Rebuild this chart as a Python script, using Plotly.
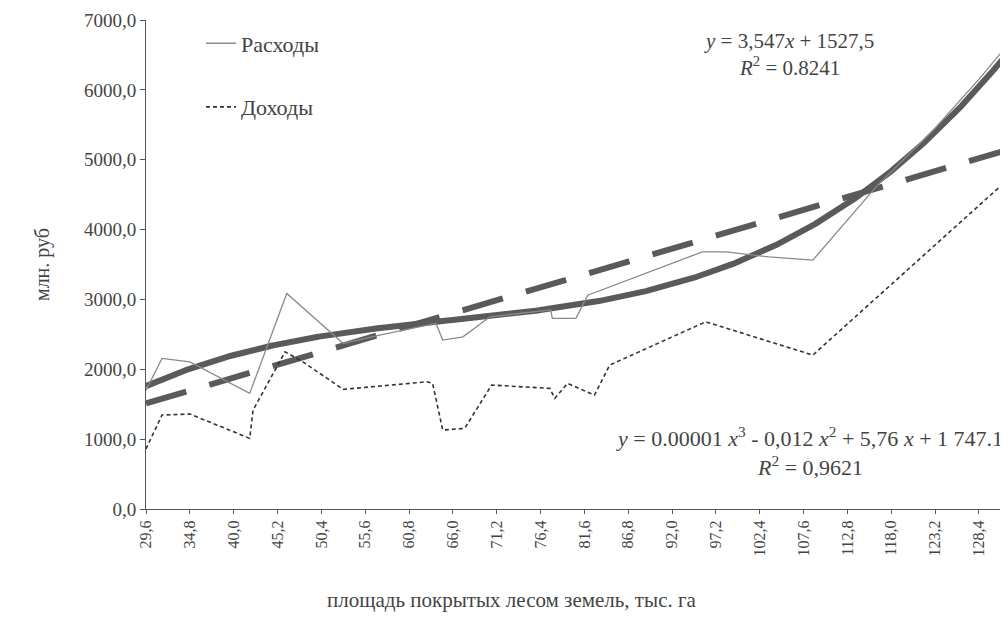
import numpy as np
import plotly.graph_objects as go

# ---- data ----
rash_x = [29.6, 31.5, 34.8, 41.9, 46.3, 53.0, 57.3, 64.0, 64.8, 67.2, 70.4, 77.6, 77.8, 80.6, 82.0,
          95.6, 98.4, 103.5, 108.7, 116.2, 123.2, 128.4, 131.5]
rash_y = [1700, 2156, 2107, 1655, 3086, 2370, 2490, 2657, 2418, 2465, 2751, 2850, 2730, 2730, 3060,
          3681, 3681, 3609, 3562, 4611, 5450, 6150, 6600]

doh_x = [29.6, 31.5, 34.8, 41.9, 42.3, 46.1, 48.2, 53.0, 62.9, 63.6, 64.8, 67.4, 70.6, 77.5, 78.1,
         79.6, 82.8, 84.6, 96.0, 108.7, 131.5]
doh_y = [860, 1345, 1360, 1011, 1416, 2250, 2107, 1712, 1821, 1798, 1130, 1154, 1774, 1727, 1584,
         1798, 1631, 2060, 2680, 2203, 4680]

tick_vals = [29.6, 34.8, 40.0, 45.2, 50.4, 55.6, 60.8, 66.0, 71.2, 76.4, 81.6, 86.8, 92.0, 97.2,
             102.4, 107.6, 112.8, 118.0, 123.2, 128.4]
tick_text = [f"{v:.1f}".replace(".", ",") for v in tick_vals]
y_ticks = [0, 1000, 2000, 3000, 4000, 5000, 6000, 7000]
y_text = [f"{v},0" for v in y_ticks]

# ---- trend lines fitted to the Расходы series (as the spreadsheet does) ----
grid = np.arange(29.6, 131.55, 0.1)
dense = np.interp(grid, rash_x, rash_y)
lin = np.polyval(np.polyfit(grid, dense, 1), grid)
cub = np.polyval(np.polyfit(grid, dense, 3), grid)

FONT = "Liberation Serif"
GRAY = "#444"

fig = go.Figure()
fig.add_trace(go.Scatter(x=grid, y=lin, mode="lines", showlegend=False,
                         line=dict(color="#5a5a5a", width=6, dash="42px,24px")))
fig.add_trace(go.Scatter(x=grid, y=cub, mode="lines", showlegend=False,
                         line=dict(color="#5a5a5a", width=6)))
fig.add_trace(go.Scatter(x=rash_x, y=rash_y, mode="lines", name="Расходы", legendgroup="a",
                         line=dict(color="#8a8a8a", width=1.3)))
fig.add_trace(go.Scatter(x=doh_x, y=doh_y, mode="lines", name="Доходы", legendgroup="b",
                         line=dict(color="#333333", width=1.6, dash="4px,3px")))

fig.update_layout(
    width=1000, height=614,
    margin=dict(l=138, r=3, t=12, b=113),
    paper_bgcolor="white", plot_bgcolor="white",
    font=dict(family=FONT, color=GRAY, size=18),
    legend=dict(x=0.064, y=0.995, xanchor="left", yanchor="top", bgcolor="rgba(0,0,0,0)",
                font=dict(size=22, family=FONT, color=GRAY), tracegroupgap=32),
    xaxis=dict(range=[29.6, 131.5], tickmode="array", tickvals=tick_vals, ticktext=tick_text,
               tickangle=-90, showgrid=False, zeroline=False, showline=True,
               linecolor="#555", linewidth=1, ticks="outside", ticklen=4, tickcolor="#555",
               tickfont=dict(size=16, family=FONT, color=GRAY)),
    yaxis=dict(range=[0, 7000], tickmode="array", tickvals=y_ticks, ticktext=y_text,
               showgrid=False, zeroline=False, showline=True, linecolor="#555", linewidth=1,
               ticks="outside", ticklen=5, tickcolor="#555",
               tickfont=dict(size=19, family=FONT, color=GRAY),
               title=dict(text="млн. руб", font=dict(size=20, family=FONT, color=GRAY),
                          standoff=28)),
)

# x-axis title (centred on the page, as in the original)
fig.add_annotation(xref="paper", yref="paper", x=0.426, y=-0.186, xanchor="center", yanchor="middle",
                   showarrow=False, text="площадь покрытых лесом земель, тыс. га",
                   font=dict(size=21, family=FONT, color=GRAY))

fig.add_annotation(xref="paper", yref="paper", x=0.748, y=0.985, xanchor="center", yanchor="top",
                   showarrow=False, align="center",
                   text="<i>y</i> = 3,547<i>x</i> + 1527,5<br><i>R</i><sup>2</sup> = 0.8241",
                   font=dict(size=21, family=FONT, color=GRAY))
fig.add_annotation(xref="paper", yref="paper", x=1.0, y=0.18, xanchor="right", yanchor="top",
                   showarrow=False, align="center",
                   text="<i>y</i> = 0.00001 <i>x</i><sup>3</sup> - 0,012 <i>x</i><sup>2</sup> + 5,76 <i>x</i> + 1 747.1<br><i>R</i><sup>2</sup> = 0,9621",
                   font=dict(size=22, family=FONT, color=GRAY))

fig.write_html("out.html")
